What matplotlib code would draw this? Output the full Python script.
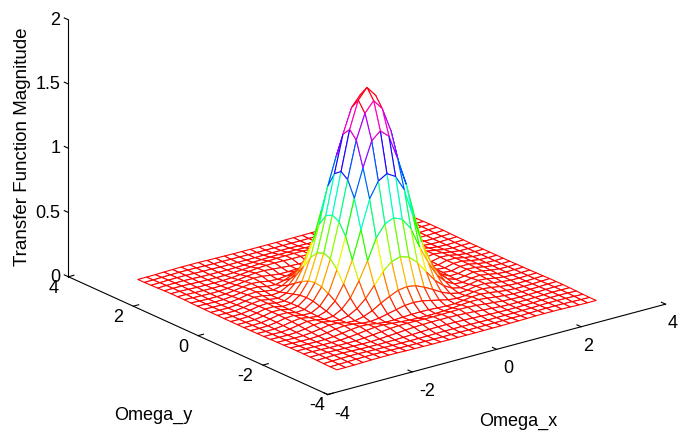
import numpy as np
import matplotlib
matplotlib.use('agg')
import matplotlib.pyplot as plt
from matplotlib import cm
from matplotlib.colors import PowerNorm

plt.rcParams['font.family'] = ['Liberation Sans', 'DejaVu Sans']
plt.rcParams['axes.unicode_minus'] = False

quadrant = np.array([
    [1.58, 1.50, 1.29, .98, .66, .38, .17, .07, .020, .013, .030, .030, .016, .006, .003, .004],
    [1.50, 1.42, 1.23, .94, .63, .36, .16, .065, .019, .013, .030, .030, .016, .006, .003, .004],
    [1.29, 1.23, 1.04, .82, .54, .30, .13, .05, .015, .016, .032, .028, .014, .005, .003, .004],
    [.98, .94, .82, .60, .38, .21, .095, .035, .012, .021, .033, .025, .012, .004, .003, .005],
    [.66, .63, .54, .38, .24, .125, .055, .019, .012, .027, .032, .021, .009, .003, .004, .005],
    [.38, .36, .30, .21, .125, .065, .027, .012, .020, .033, .028, .015, .006, .003, .004, .006],
    [.17, .16, .13, .095, .055, .027, .012, .016, .030, .032, .021, .011, .004, .003, .005, .007],
    [.07, .065, .05, .035, .019, .012, .016, .028, .033, .025, .014, .006, .003, .003, .005, .008],
    [.020, .019, .015, .012, .012, .020, .030, .033, .026, .016, .008, .003, .003, .005, .007, .010],
    [.013, .013, .016, .021, .027, .033, .032, .025, .016, .009, .004, .003, .004, .006, .009, .010],
    [.030, .030, .032, .033, .032, .028, .021, .014, .008, .004, .003, .004, .005, .008, .010, .010],
    [.030, .030, .028, .025, .021, .015, .011, .006, .003, .003, .004, .005, .008, .010, .010, .009],
    [.016, .016, .014, .012, .009, .006, .004, .003, .003, .004, .005, .008, .010, .010, .009, .007],
    [.006, .006, .005, .004, .003, .003, .003, .003, .005, .006, .008, .010, .010, .009, .007, .005],
    [.003, .003, .003, .003, .004, .004, .005, .005, .007, .009, .010, .010, .009, .007, .005, .004],
    [.004, .004, .004, .005, .005, .006, .007, .008, .010, .010, .010, .009, .007, .005, .004, .004],
])
omega_max = 3.07
xticks = [-4, -2, 0, 2, 4]
yticks = [-4, -2, 0, 2, 4]
zticks = [0, 0.5, 1, 1.5, 2]
zticklabels = ['0', '0.5', '1', '1.5', '2']

# other three quadrants are the same in the picture
top = np.hstack([quadrant[:, :0:-1], quadrant])
mag = np.vstack([top[:0:-1, :], top])
omega = np.linspace(-omega_max, omega_max, mag.shape[0])
wx, wy = np.meshgrid(omega, omega)

fig = plt.figure(figsize=(6.81, 4.39), dpi=100)
ax = fig.add_axes([-43.8 / 681, -134.8 / 439, 800 / 681, 800 / 439], projection='3d')
ax.set_proj_type('ortho')
ax.view_init(elev=20.4, azim=-127.5)
ax.set_box_aspect((0.985, 0.985, 0.634), zoom=0.803)
ax.patch.set_alpha(0)

# white faces give the hidden lines of a mesh, edges coloured by height
surf = ax.plot_surface(wx, wy, mag, rstride=1, cstride=1, color='white', shade=False,
                       linewidth=0.8, antialiased=True)
cell = (mag[:-1, :-1] + mag[1:, :-1] + mag[:-1, 1:] + mag[1:, 1:]) / 4
norm = PowerNorm(gamma=1.2, vmin=0, vmax=cell.max())
surf.set_edgecolors(cm.hsv(norm(cell.ravel())))

ax.set_xlim(-4, 4, view_margin=0)
ax.set_ylim(-4, 4, view_margin=0)
ax.set_zlim(0, 2, view_margin=0)
ax.set_xticks(xticks)
ax.set_yticks(yticks)
ax.set_zticks(zticks)
ax.set_zticklabels(zticklabels)
ax.grid(False)
ax.zaxis.set_ticks_position('upper')
ax.zaxis.set_label_position('upper')
# z ticks point along y in the reference, not along x
ax.zaxis._get_tickdir = lambda pos: 1

for axis in (ax.xaxis, ax.yaxis, ax.zaxis):
    axis.set_pane_color((1, 1, 1, 0))
    axis.pane.set_edgecolor((1, 1, 1, 0))
    axis.line.set_color('black')
    axis.line.set_linewidth(0.8)
    axis._axinfo['tick']['inward_factor'] = 0.0
    axis._axinfo['tick']['outward_factor'] = 0.2
    axis.set_rotate_label(False)
ax.tick_params(labelsize=13, width=0.6, colors='black', pad=1)
ax.xaxis.set_tick_params(pad=0)
ax.zaxis.set_tick_params(pad=-4)

for lab in ax.get_zticklabels():
    lab.set_ha('right')
    lab.set_va('center')
for lab in ax.get_xticklabels()[:3]:
    lab.set_ha('left')
for lab in ax.get_yticklabels()[1:]:
    lab.set_ha('right')
for lab in ax.get_yticklabels():
    lab.set_va('center')

ax.set_zlabel('Transfer Function Magnitude', fontsize=13.5, rotation=90, labelpad=2)
ax.text2D(518 / 681, 1 - 421 / 439, 'Omega_x', fontsize=13, ha='center', va='center',
          transform=fig.transFigure)
ax.text2D(153 / 681, 1 - 415 / 439, 'Omega_y', fontsize=13, ha='center', va='center',
          transform=fig.transFigure)

fig.savefig('out.png', dpi=100)
